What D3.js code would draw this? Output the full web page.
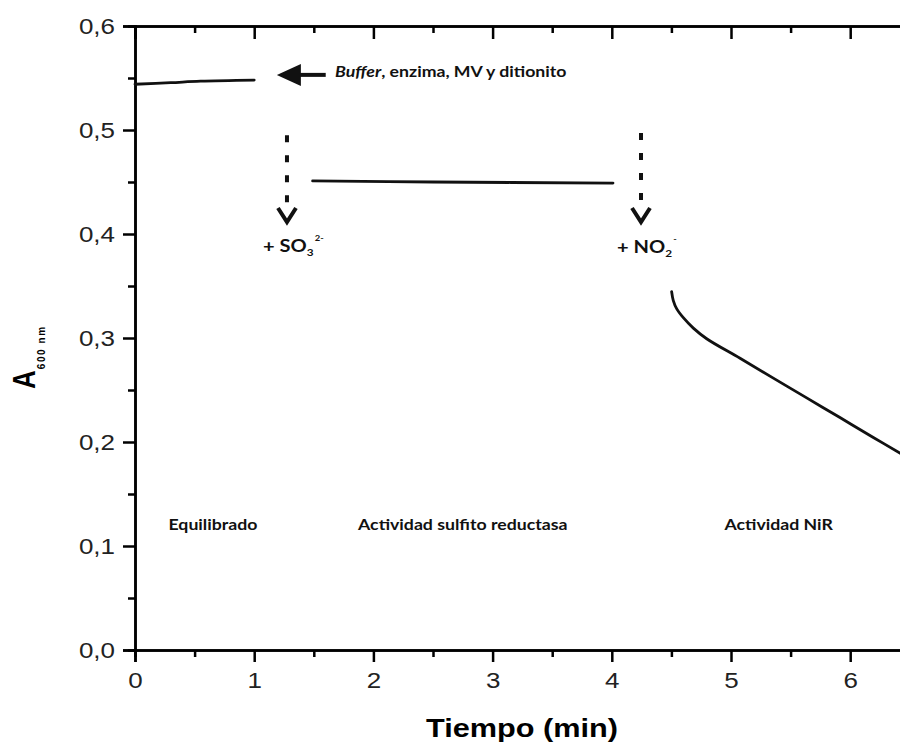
<!DOCTYPE html>
<html>
<head>
<meta charset="utf-8">
<script src="https://cdn.jsdelivr.net/npm/d3@7"></script>
<style>
body { margin: 0; background: #fff; }
svg { display: block; }
</style>
</head>
<body>
<div id="chart"></div>
<script>
var W = 900, H = 742,
	sx = 1.18; // the source figure is stretched sideways a little

// ---- data ----
var equilTime = [0, 0.3, 0.55, 1.0],
	equilAbs = [0.544, 0.5455, 0.547, 0.548];

var sulfTime = [1.49, 2.5, 4.01],
	sulfAbs = [0.451, 0.450, 0.449];

var nirTime = [4.502, 4.516, 4.545, 4.6, 4.684, 4.796, 5.076, 5.355, 5.635, 5.914, 6.194, 6.42],
	nirAbs = [0.3445, 0.336, 0.328, 0.3195, 0.3095, 0.2993, 0.2805, 0.2614, 0.2424, 0.2235, 0.2044, 0.1891];

var xTicks = [0, 1, 2, 3, 4, 5, 6],
	xMinor = [0.5, 1.5, 2.5, 3.5, 4.5, 5.5],
	yTicks = [0, 0.1, 0.2, 0.3, 0.4, 0.5, 0.6],
	yMinor = [0.05, 0.15, 0.25, 0.35, 0.45, 0.55];

var regionLabels = ["Equilibrado", "Actividad sulfito reductasa", "Actividad NiR"],
	regionX = [0.654, 2.75, 5.40],
	regionY = 0.1154;

// additions (dashed arrows), in data units
var addX = [1.275, 4.245],
	addTop = [0.495, 0.497],
	addTip = 0.4115;

var x = d3.scaleLinear().domain([0, 7]).range([135, 135 + 7 * 119.2]),
	y = d3.scaleLinear().domain([0, 0.6]).range([650, 26]);

var svg = d3.select("#chart").append("svg")
	.attr("width", W)
	.attr("height", H);

function zip(a, b) { return a.map(function(d, i) { return [d, b[i]]; }); }

function stretched(g, px, py, anchor) {
	return g.append("g")
		.attr("transform", "translate(" + px + "," + py + ") scale(" + sx + ",1)")
		.append("text")
		.attr("text-anchor", anchor || "start");
}

// ---- axes ----
var comma = function(d) { return d3.format(".1f")(d).replace(".", ","); };

function styleAxis(g) {
	g.selectAll(".domain").attr("stroke", "#000").attr("stroke-width", 2.5);
	g.selectAll(".tick line").attr("stroke", "#000").attr("stroke-width", 2.5);
}

var gxMinor = svg.append("g").attr("transform", "translate(0," + y(0) + ")")
	.call(d3.axisBottom(x).tickValues(xMinor).tickSize(7).tickFormat(""));
var gx = svg.append("g").attr("transform", "translate(0," + y(0) + ")")
	.call(d3.axisBottom(x).tickValues(xTicks).tickSize(12).tickPadding(10).tickFormat(d3.format("d")));
var gtMinor = svg.append("g").attr("transform", "translate(0," + y(0.6) + ")")
	.call(d3.axisTop(x).tickValues(xMinor).tickSize(-7).tickFormat(""));
var gt = svg.append("g").attr("transform", "translate(0," + y(0.6) + ")")
	.call(d3.axisTop(x).tickValues(xTicks).tickSize(-13).tickFormat(""));
var gyMinor = svg.append("g").attr("transform", "translate(" + x(0) + ",0)")
	.call(d3.axisLeft(y).tickValues(yMinor).tickSize(7).tickFormat(""));
var gy = svg.append("g").attr("transform", "translate(" + x(0) + ",0)")
	.call(d3.axisLeft(y).tickValues(yTicks).tickSize(12).tickPadding(8).tickFormat(comma));

[gxMinor, gx, gtMinor, gt, gyMinor, gy].forEach(styleAxis);

gx.selectAll(".tick text")
	.attr("font-family", "'Liberation Sans', Arial, sans-serif")
	.attr("font-size", 22)
	.attr("fill", "#222")
	.attr("transform", "scale(" + sx + ",1)");
gy.selectAll(".tick text")
	.attr("font-family", "'Liberation Sans', Arial, sans-serif")
	.attr("font-size", 22)
	.attr("fill", "#222")
	.attr("x", -20 / sx)
	.attr("transform", "scale(" + sx + ",1)");

// axis titles
stretched(svg, 522, 737, "middle")
	.attr("font-family", "'Liberation Sans', Arial, sans-serif")
	.attr("font-weight", "bold")
	.attr("font-size", 26)
	.attr("fill", "#000")
	.text("Tiempo (min)");

var yt = svg.append("g")
	.attr("transform", "translate(35,389) scale(" + sx + ",1) rotate(-90)")
	.append("text")
	.attr("font-family", "'Liberation Sans', Arial, sans-serif")
	.attr("font-weight", "bold")
	.attr("fill", "#000");
yt.append("tspan").attr("font-size", 26).text("A");
yt.append("tspan").attr("font-size", 10).attr("dy", 8.5).attr("dx", 1)
	.attr("letter-spacing", 1.6).text("600 nm");

// ---- data lines ----
var line = d3.line()
	.x(function(d) { return x(d[0]); })
	.y(function(d) { return y(d[1]); })
	.curve(d3.curveCatmullRom.alpha(0.5));

[zip(equilTime, equilAbs), zip(sulfTime, sulfAbs), zip(nirTime, nirAbs)].forEach(function(seg) {
	svg.append("path")
		.datum(seg)
		.attr("fill", "none")
		.attr("stroke", "#111")
		.attr("stroke-width", 2.8)
		.attr("stroke-linecap", "round")
		.attr("d", line);
});

// ---- annotations ----
var annoFont = "Lato, 'Open Sans', sans-serif";

// solid arrow pointing at the first segment
var bTip = [1.19, 0.553], bTail = [1.60, 0.553];
var tipX = x(bTip[0]), tipY = y(bTip[1]);
svg.append("line")
	.attr("x1", tipX + 20).attr("y1", tipY)
	.attr("x2", x(bTail[0])).attr("y2", y(bTail[1]))
	.attr("stroke", "#111")
	.attr("stroke-width", 4);
svg.append("path")
	.attr("d", "M" + tipX + "," + tipY + "L" + (tipX + 24) + "," + (tipY - 11) + "L" + (tipX + 24) + "," + (tipY + 11) + "Z")
	.attr("fill", "#111");

var bt = stretched(svg, x(1.678), y(0.551))
	.attr("font-family", annoFont)
	.attr("font-weight", "bold")
	.attr("font-size", 15)
	.attr("fill", "#111");
bt.append("tspan").attr("font-style", "italic").text("Buffer");
bt.append("tspan").text(", enzima, MV y ditionito");

// dashed arrows for the additions
addX.forEach(function(d, i) {
	var px = x(d), apex = y(addTip);
	svg.append("line")
		.attr("x1", px).attr("y1", y(addTop[i]))
		.attr("x2", px).attr("y2", apex - 16)
		.attr("stroke", "#111")
		.attr("stroke-width", 4)
		.attr("stroke-dasharray", "7,13");
	svg.append("path")
		.attr("d", "M" + (px - 9) + "," + (apex - 14) + "L" + px + "," + apex + "L" + (px + 9) + "," + (apex - 14))
		.attr("fill", "none")
		.attr("stroke", "#111")
		.attr("stroke-width", 4)
		.attr("stroke-linejoin", "miter");
});

function ionLabel(px, py, base, sub, sup) {
	var t = stretched(svg, px, py)
		.attr("font-family", annoFont)
		.attr("font-weight", "bold")
		.attr("font-size", 17)
		.attr("fill", "#111");
	t.append("tspan").text(base);
	t.append("tspan").attr("font-size", 10).attr("dy", 4).text(sub);
	t.append("tspan").attr("font-size", 8).attr("dy", -15).attr("dx", 1).text(sup);
}
ionLabel(x(1.074), y(0.3827), "+ SO", "3", "2-");
ionLabel(x(4.044), y(0.3817), "+ NO", "2", "-");

regionLabels.forEach(function(d, i) {
	stretched(svg, x(regionX[i]), y(regionY), "middle")
		.attr("font-family", annoFont)
		.attr("font-weight", "bold")
		.attr("font-size", 15)
		.attr("fill", "#111")
		.text(d);
});
</script>
</body>
</html>
